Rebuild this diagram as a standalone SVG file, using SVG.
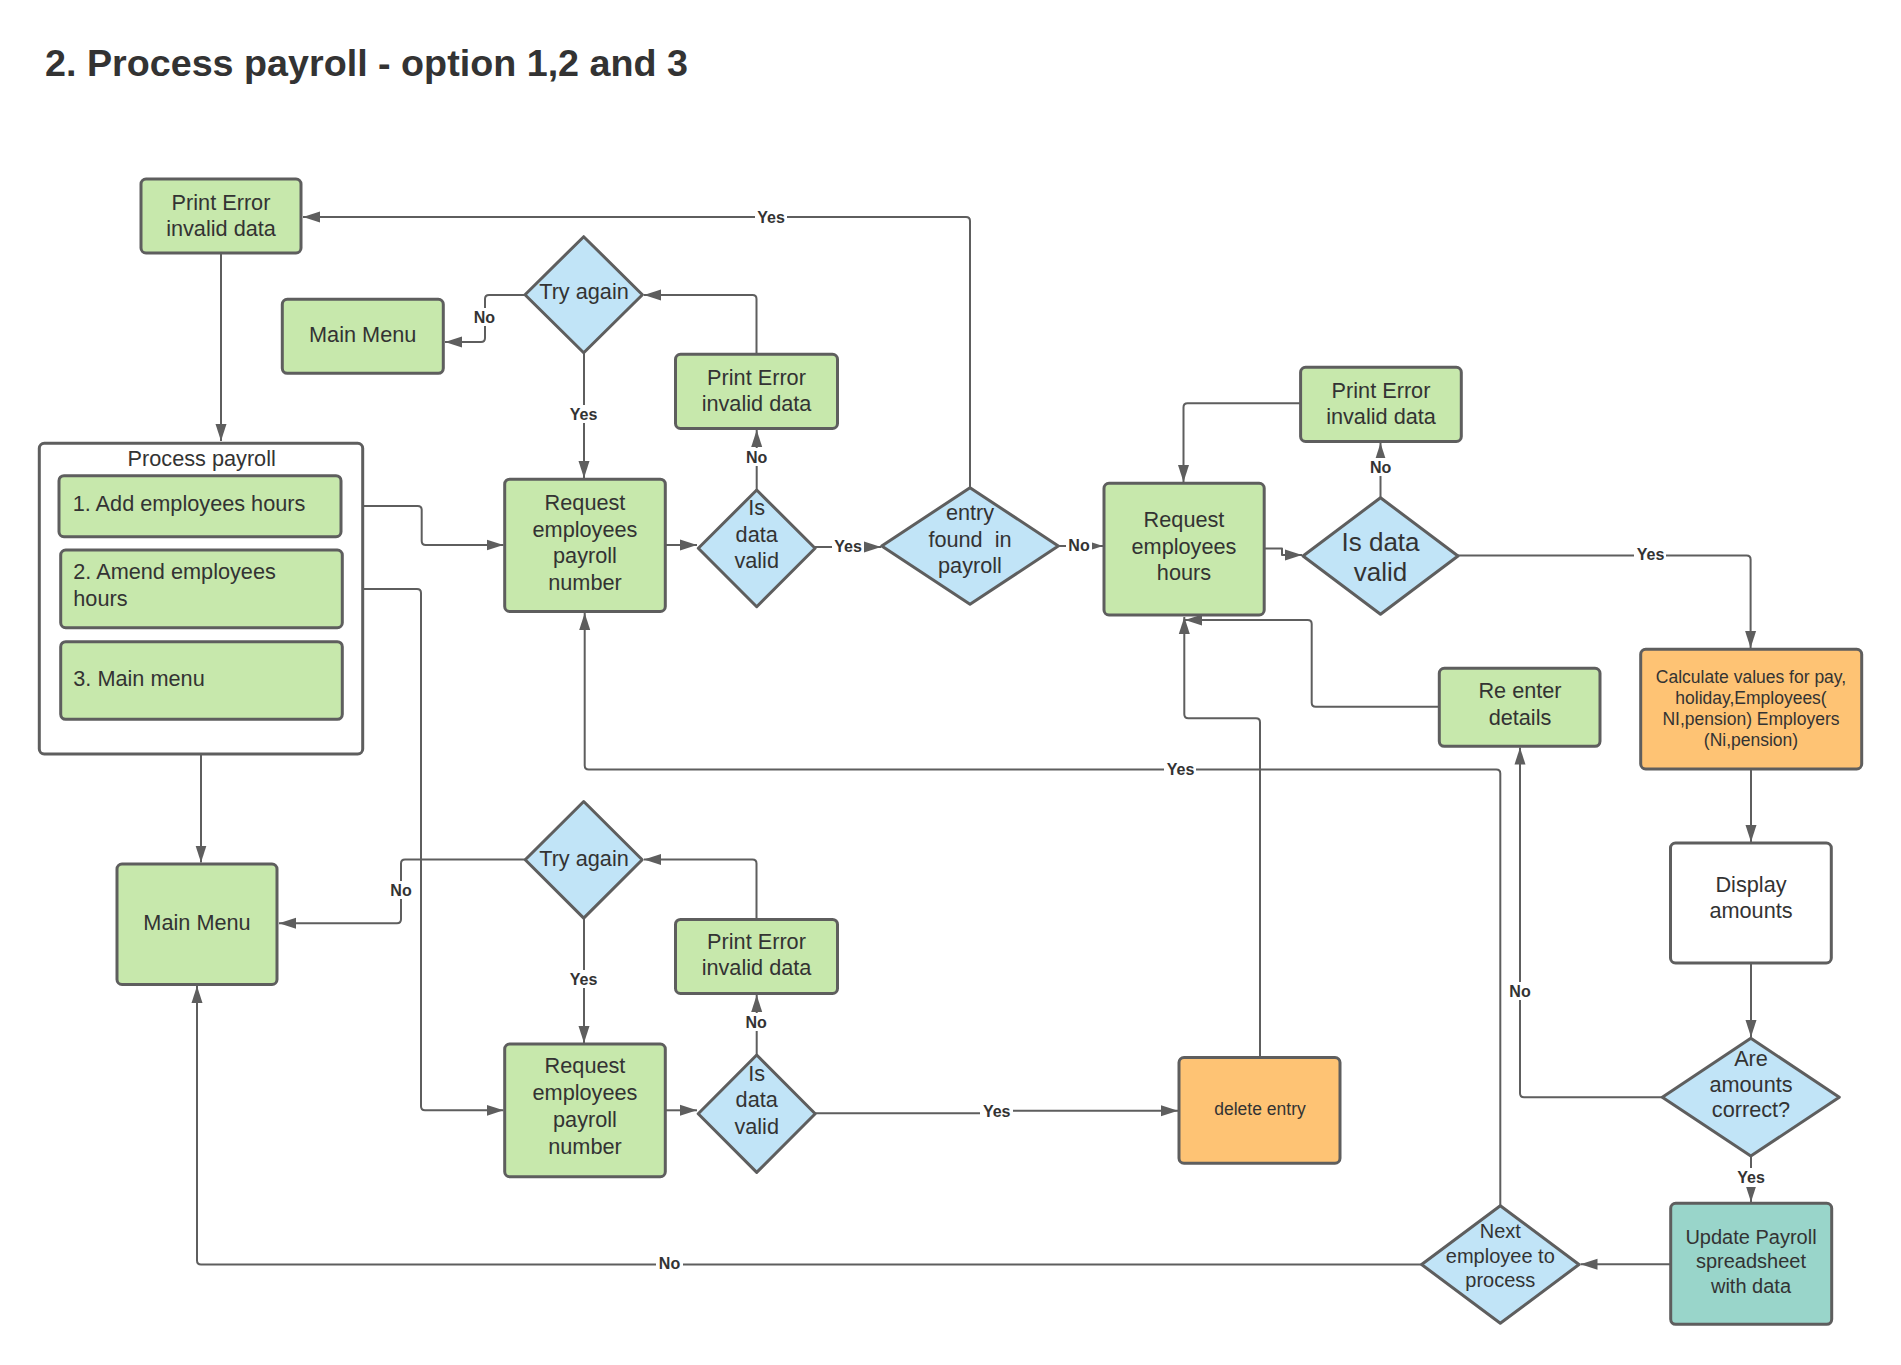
<svg xmlns="http://www.w3.org/2000/svg" width="1901" height="1365" viewBox="0 0 1901 1365">
<style>
.g{fill:#c7e8ac;stroke:#5e5e5e;stroke-width:3}
.bl{fill:#c1e4f7;stroke:#5e5e5e;stroke-width:3;stroke-linejoin:round}
.o{fill:#fec374;stroke:#5e5e5e;stroke-width:3}
.tl{fill:#99d5ca;stroke:#5e5e5e;stroke-width:3}
.w{fill:#ffffff;stroke:#5e5e5e;stroke-width:3}
.c{fill:none;stroke:#5e5e5e;stroke-width:2;stroke-linejoin:round;marker-end:url(#ah)}
.t{font-family:"Liberation Sans",Arial,sans-serif;font-size:21.7px;fill:#333;text-anchor:middle}
.tla{font-family:"Liberation Sans",Arial,sans-serif;font-size:21.7px;fill:#333}
.s{font-size:17.5px}
.m{font-size:20px}
.lg{font-size:26px}
.lb{font-family:"Liberation Sans",Arial,sans-serif;font-size:16px;font-weight:bold;fill:#333;text-anchor:middle}
.bg{fill:#ffffff}
</style>
<defs>
<marker id="ah" markerUnits="userSpaceOnUse" markerWidth="18" markerHeight="12" refX="17" refY="6" orient="auto">
<path d="M0,0.5 L17,6 L0,11.5 z" fill="#5e5e5e"/>
</marker>
</defs>
<rect width="1901" height="1365" fill="#ffffff"/>
<text x="45" y="76" font-family="'Liberation Sans',Arial,sans-serif" font-size="37.7" font-weight="bold" fill="#333">2. Process payroll - option 1,2 and 3</text>

<g id="connectors">
<path class="c" d="M221,253 V441"/>
<path class="c" d="M970,488 V221 Q970,217 966,217 H303"/>
<path class="c" d="M525,295 H489 Q485,295 485,299 V338 Q485,342 481,342 H445"/>
<path class="c" d="M584,353 V478"/>
<path class="c" d="M756.5,354 V299 Q756.5,295 752.5,295 H644"/>
<path class="c" d="M756.7,490 V430"/>
<path class="c" d="M341,506 H417.7 Q421.7,506 421.7,510 V541 Q421.7,545 425.7,545 H503.5"/>
<path class="c" d="M342.3,589 H417 Q421,589 421,593 V1106.3 Q421,1110.3 425,1110.3 H503.5"/>
<path class="c" d="M201,719.3 V862.5"/>
<path class="c" d="M665.3,545 H697"/>
<path class="c" d="M815,547 H881"/>
<path class="c" d="M1058.3,546 H1103"/>
<path class="c" d="M1264,548.6 H1282 V555 H1302"/>
<path class="c" d="M1380.5,497.5 V443"/>
<path class="c" d="M1300.6,403.3 H1187.5 Q1183.5,403.3 1183.5,407.3 V482"/>
<path class="c" d="M1458,555.5 H1746.6 Q1750.6,555.5 1750.6,559.5 V648"/>
<path class="c" d="M1751,769 V842"/>
<path class="c" d="M1751,963 V1037"/>
<path class="c" d="M1662.3,1097.3 H1524 Q1520,1097.3 1520,1093.3 V747.5"/>
<path class="c" d="M1751,1156 V1202"/>
<path class="c" d="M1670.7,1264.3 H1580.5"/>
<path class="c" d="M1421.7,1264.5 H201 Q197,1264.5 197,1260.5 V986"/>
<path class="c" d="M1500.3,1205.7 V773.6 Q1500.3,769.6 1496.3,769.6 H588.7 Q584.7,769.6 584.7,765.6 V613"/>
<path class="c" d="M1439.3,706.7 H1315.7 Q1311.7,706.7 1311.7,702.7 V624 Q1311.7,620 1307.7,620 H1185"/>
<path class="c" d="M1260,1057.5 V722.3 Q1260,718.3 1256,718.3 H1188.3 Q1184.3,718.3 1184.3,714.3 V617"/>
<path class="c" d="M525,859.5 H405 Q401,859.5 401,863.5 V919.3 Q401,923.3 397,923.3 H279"/>
<path class="c" d="M584,918 V1043"/>
<path class="c" d="M756.5,919.4 V863.5 Q756.5,859.5 752.5,859.5 H644"/>
<path class="c" d="M756.7,1055 V995"/>
<path class="c" d="M665.3,1110.3 H697"/>
<path class="c" d="M815,1113.3 H996 V1110.7 H1178"/>
</g>

<g id="labels">
<rect class="bg" x="755" y="208" width="32" height="18"/><text class="lb" x="771" y="222.5">Yes</text>
<rect class="bg" x="471" y="308" width="27" height="18"/><text class="lb" x="484.3" y="322.5">No</text>
<rect class="bg" x="568" y="405" width="32" height="18"/><text class="lb" x="583.5" y="419.5">Yes</text>
<rect class="bg" x="743" y="448" width="27" height="18"/><text class="lb" x="756.7" y="462.5">No</text>
<rect class="bg" x="832" y="537" width="32" height="18"/><text class="lb" x="848" y="551.5">Yes</text>
<rect class="bg" x="1066" y="536" width="26" height="18"/><text class="lb" x="1079" y="550.5">No</text>
<rect class="bg" x="1367" y="458" width="27" height="18"/><text class="lb" x="1380.6" y="473">No</text>
<rect class="bg" x="1634" y="545" width="32" height="18"/><text class="lb" x="1650.5" y="559.5">Yes</text>
<rect class="bg" x="1506" y="982" width="27" height="18"/><text class="lb" x="1520" y="997">No</text>
<rect class="bg" x="1735" y="1168" width="32" height="19"/><text class="lb" x="1751" y="1183">Yes</text>
<rect class="bg" x="656" y="1254" width="27" height="18"/><text class="lb" x="669.5" y="1268.5">No</text>
<rect class="bg" x="1164" y="760" width="32" height="18"/><text class="lb" x="1180.5" y="774.5">Yes</text>
<rect class="bg" x="387" y="881" width="27" height="18"/><text class="lb" x="401" y="895.5">No</text>
<rect class="bg" x="568" y="970" width="32" height="18"/><text class="lb" x="583.5" y="984.5">Yes</text>
<rect class="bg" x="743" y="1013" width="27" height="18"/><text class="lb" x="756.2" y="1027.5">No</text>
<rect class="bg" x="980" y="1102" width="33" height="18"/><text class="lb" x="996.7" y="1116.5">Yes</text>
</g>

<g id="print-error-1">
<rect class="g" x="141" y="179" width="160" height="74" rx="5"/>
<text class="t" x="221" y="210.3">Print Error</text>
<text class="t" x="221" y="236.4">invalid data</text>
</g>
<g id="main-menu-1">
<rect class="g" x="282.3" y="299.3" width="161" height="74" rx="5"/>
<text class="t" x="362.7" y="341.7">Main Menu</text>
</g>
<g id="try-again-1">
<polygon class="bl" points="583.7,236.7 642.4,294.7 583.7,352.7 525,294.7"/>
<text class="t" x="584" y="299.3">Try again</text>
</g>
<g id="print-error-2">
<rect class="g" x="675.5" y="354.3" width="162" height="74.2" rx="5"/>
<text class="t" x="756.5" y="385">Print Error</text>
<text class="t" x="756.5" y="411">invalid data</text>
</g>
<g id="request-payroll-1">
<rect class="g" x="504.7" y="479.2" width="160.6" height="132.3" rx="5"/>
<text class="t" x="585" y="509.6">Request</text>
<text class="t" x="585" y="536.5">employees</text>
<text class="t" x="585" y="563">payroll</text>
<text class="t" x="585" y="589.8">number</text>
</g>
<g id="data-valid-1">
<polygon class="bl" points="756.7,490 815.1,548.3 756.7,606.7 698.3,548.3"/>
<text class="t" x="756.7" y="515">Is</text>
<text class="t" x="756.7" y="541.7">data</text>
<text class="t" x="756.7" y="568.3">valid</text>
</g>
<g id="entry-found">
<polygon class="bl" points="970,487.7 1058.3,546 970,604.3 881.7,546"/>
<text class="t" x="970" y="520">entry</text>
<text class="t" x="970" y="546.7" style="white-space:pre">found  in</text>
<text class="t" x="970" y="573.3">payroll</text>
</g>
<g id="request-hours">
<rect class="g" x="1104" y="483.3" width="160.2" height="131.7" rx="5"/>
<text class="t" x="1184" y="527">Request</text>
<text class="t" x="1184" y="553.8">employees</text>
<text class="t" x="1184" y="580.3">hours</text>
</g>
<g id="print-error-3">
<rect class="g" x="1300.6" y="367.3" width="160.7" height="74.2" rx="5"/>
<text class="t" x="1381" y="398">Print Error</text>
<text class="t" x="1381" y="424.2">invalid data</text>
</g>
<g id="data-valid-2">
<polygon class="bl" points="1380.5,497.7 1458,556 1380.5,614.3 1303,556"/>
<text class="t lg" x="1380.5" y="550.8">Is data</text>
<text class="t lg" x="1380.5" y="581.2">valid</text>
</g>
<g id="calculate">
<rect class="o" x="1640.7" y="649.3" width="221" height="119.7" rx="5"/>
<text class="t s" x="1751" y="682.5">Calculate values for pay,</text>
<text class="t s" x="1751" y="703.5">holiday,Employees(</text>
<text class="t s" x="1751" y="724.5">NI,pension) Employers</text>
<text class="t s" x="1751" y="745.5">(Ni,pension)</text>
</g>
<g id="re-enter">
<rect class="g" x="1439.3" y="668.3" width="160.7" height="78" rx="5"/>
<text class="t" x="1520" y="698.3">Re enter</text>
<text class="t" x="1520" y="724.6">details</text>
</g>
<g id="display-amounts">
<rect class="w" x="1670.5" y="843" width="160.8" height="120" rx="5"/>
<text class="t" x="1751" y="892">Display</text>
<text class="t" x="1751" y="918">amounts</text>
</g>
<g id="amounts-correct">
<polygon class="bl" points="1750.8,1038.3 1839.3,1097.2 1750.8,1156.1 1662.3,1097.2"/>
<text class="t" x="1751" y="1065.7">Are</text>
<text class="t" x="1751" y="1091.7">amounts</text>
<text class="t" x="1751" y="1117.3">correct?</text>
</g>
<g id="update-payroll">
<rect class="tl" x="1670.7" y="1203.3" width="161" height="121" rx="5"/>
<text class="t m" x="1751" y="1244">Update Payroll</text>
<text class="t m" x="1751" y="1268.3">spreadsheet</text>
<text class="t m" x="1751" y="1292.7">with data</text>
</g>
<g id="next-employee">
<polygon class="bl" points="1500.3,1205.7 1579,1264.5 1500.3,1323.3 1421.6,1264.5"/>
<text class="t m" x="1500.3" y="1238.3">Next</text>
<text class="t m" x="1500.3" y="1263.3">employee to</text>
<text class="t m" x="1500.3" y="1286.7">process</text>
</g>
<g id="delete-entry">
<rect class="o" x="1179" y="1057.5" width="161" height="105.7" rx="5"/>
<text class="t s" x="1260" y="1115">delete entry</text>
</g>
<g id="main-menu-2">
<rect class="g" x="117" y="864" width="160" height="120.5" rx="5"/>
<text class="t" x="197" y="930">Main Menu</text>
</g>
<g id="try-again-2">
<polygon class="bl" points="583.7,801.5 642.2,859.8 583.7,918.1 525.2,859.8"/>
<text class="t" x="584" y="865.7">Try again</text>
</g>
<g id="print-error-4">
<rect class="g" x="675.5" y="919.4" width="162" height="74" rx="5"/>
<text class="t" x="756.5" y="948.7">Print Error</text>
<text class="t" x="756.5" y="974.9">invalid data</text>
</g>
<g id="request-payroll-2">
<rect class="g" x="504.7" y="1044" width="160.6" height="132.7" rx="5"/>
<text class="t" x="585" y="1073.2">Request</text>
<text class="t" x="585" y="1100.3">employees</text>
<text class="t" x="585" y="1127">payroll</text>
<text class="t" x="585" y="1154">number</text>
</g>
<g id="data-valid-3">
<polygon class="bl" points="756.7,1055 815.2,1113.7 756.7,1172.4 698.2,1113.7"/>
<text class="t" x="756.7" y="1081">Is</text>
<text class="t" x="756.7" y="1107.3">data</text>
<text class="t" x="756.7" y="1134.4">valid</text>
</g>
<g id="process-payroll">
<rect class="w" x="39.3" y="443.3" width="323.4" height="310.7" rx="5"/>
<text class="t" x="201.7" y="466">Process payroll</text>
<rect class="g" x="59" y="475.7" width="282" height="61" rx="5"/>
<text class="tla" x="72.7" y="510.7">1. Add employees hours</text>
<rect class="g" x="60.7" y="550" width="281.6" height="77.7" rx="5"/>
<text class="tla" x="73.3" y="579.3">2. Amend employees</text>
<text class="tla" x="73.3" y="605.7">hours</text>
<rect class="g" x="60.7" y="641.7" width="281.6" height="77.6" rx="5"/>
<text class="tla" x="73.3" y="686">3. Main menu</text>
</g>
</svg>
